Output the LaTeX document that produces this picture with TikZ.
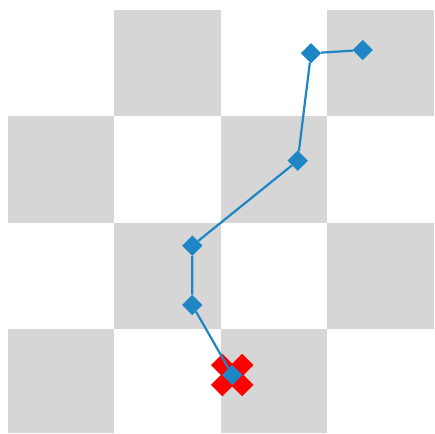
\documentclass[tikz,border=0pt]{standalone}
\usetikzlibrary{shapes.geometric}
\definecolor{sq}{HTML}{D6D6D6}
\definecolor{pathblue}{HTML}{1F86C6}
\definecolor{xred}{HTML}{FF0000}
\tikzset{
  cell/.style={fill=sq, draw=none},
  waypoint/.style={shape=diamond, fill=pathblue, draw=none, inner sep=0pt, minimum width=20.5pt, minimum height=20.5pt},
  xarm/.style={shape=rectangle, fill=xred, draw=none, inner sep=0pt, minimum width=44pt, minimum height=16pt},
  trail/.style={draw=pathblue, line width=2.2pt}
}
\begin{document}
\begin{tikzpicture}[x=1pt,y=-1pt]
\useasboundingbox (0,0) rectangle (435,433);
% checkerboard
\fill[cell] (114,10) rectangle (221,116);
\fill[cell] (327,10) rectangle (434,116);
\fill[cell] (7.5,116) rectangle (114,223);
\fill[cell] (221,116) rectangle (327,223);
\fill[cell] (114,223) rectangle (221,329);
\fill[cell] (327,223) rectangle (434,329);
\fill[cell] (7.5,329) rectangle (114,433);
\fill[cell] (221,329) rectangle (327,433);
% red cross
\node[xarm, rotate=45] (xa) at (232.3,375) {};
\node[xarm, rotate=-45] (xb) at (232.3,375) {};
% waypoints
\node[waypoint] (p1) at (362.7,50) {};
\node[waypoint] (p2) at (311,53.3) {};
\node[waypoint] (p3) at (297.7,160.7) {};
\node[waypoint] (p4) at (192.3,245.7) {};
\node[waypoint] (p5) at (192.3,305) {};
\node[waypoint] (p6) at (232.3,375) {};
\draw[trail] (p1) -- (p2) -- (p3) -- (p4) -- (p5) -- (p6);
\end{tikzpicture}
\end{document}
